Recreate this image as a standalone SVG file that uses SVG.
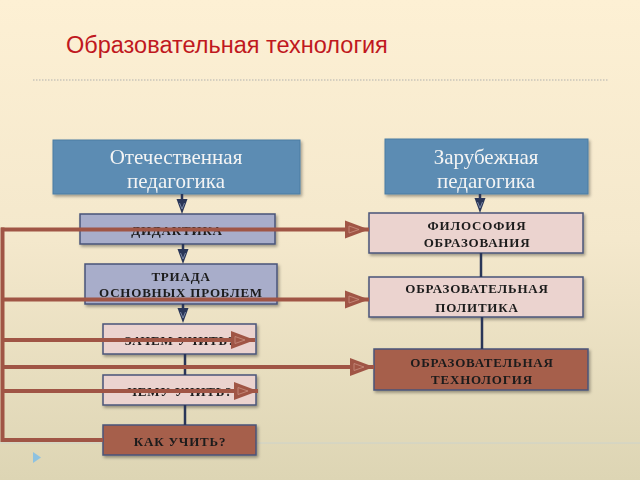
<svg xmlns="http://www.w3.org/2000/svg" width="640" height="480" viewBox="0 0 640 480">
<defs>
<linearGradient id="bg" x1="0" y1="0" x2="0" y2="1">
<stop offset="0" stop-color="#fdf0d4"/>
<stop offset="0.5" stop-color="#f4e8cc"/>
<stop offset="1" stop-color="#ddd5b4"/>
</linearGradient>
<filter id="sh" x="-10%" y="-20%" width="125%" height="150%">
<feDropShadow dx="1.5" dy="2" stdDeviation="1.5" flood-color="#000" flood-opacity="0.35"/>
</filter>
<marker id="ah" markerUnits="userSpaceOnUse" markerWidth="26" markerHeight="20" refX="24" refY="10" orient="auto">
<path d="M0,1 L24,10 L0,19 Z" fill="#a05545"/>
<path d="M4,6.5 L14,10 L4,13.5 Z" fill="none" stroke="#c98f80" stroke-width="0.8"/>
</marker>
</defs>
<style>
.hdr{fill:#5b8cb3;stroke:#4d7ca3;stroke-width:1}
.hdrt{font-family:"Liberation Serif",serif;font-size:21px;fill:#f4f4f4;text-anchor:middle}
.lv{fill:#a8adca;stroke:#4a5479;stroke-width:1.5}
.pk{fill:#ebd3cf;stroke:#4a5479;stroke-width:1.5}
.br{fill:#a65f4c;stroke:#4a5479;stroke-width:1.5}
.bt{font-family:"Liberation Serif",serif;font-size:13px;font-weight:bold;fill:#1b1b1b;text-anchor:middle;letter-spacing:0.8px}
.nv{stroke:#2a3658;stroke-width:2.5;fill:none}
.nvh{fill:#2a3658}
.nvi{fill:none;stroke:#8d9ab8;stroke-width:0.8}
.bl{stroke:#a05545;stroke-width:4;fill:none}
</style>
<rect width="640" height="480" fill="url(#bg)"/>
<text x="66" y="53" font-family="'Liberation Sans',Arial,sans-serif" font-size="23.5" fill="#c0181e">Образовательная технология</text>
<line x1="33" y1="80" x2="608" y2="80" stroke="#c9c5ba" stroke-width="1.5" stroke-dasharray="1.5 1.5"/>
<line x1="0" y1="443" x2="640" y2="443" stroke="#c4d0d4" stroke-width="1" opacity="0.7"/>
<path d="M33,452 L41,457.5 L33,463 Z" fill="#8ec2e0"/>

<g id="n-otech" filter="url(#sh)">
<rect class="hdr" x="53" y="140" width="247" height="54"/>
<text class="hdrt" x="176" y="164">Отечественная</text>
<text class="hdrt" x="176" y="188">педагогика</text>
</g>
<g id="n-zarub" filter="url(#sh)">
<rect class="hdr" x="385" y="139" width="203" height="55"/>
<text class="hdrt" x="486" y="164">Зарубежная</text>
<text class="hdrt" x="486" y="188">педагогика</text>
</g>
<g id="n-didaktika" filter="url(#sh)">
<rect class="lv" x="80" y="214" width="195" height="30"/>
<text class="bt" x="177" y="235">ДИДАКТИКА</text>
</g>
<g id="n-triada" filter="url(#sh)">
<rect class="lv" x="85" y="264" width="192" height="40"/>
<text class="bt" x="181" y="281">ТРИАДА</text>
<text class="bt" x="181" y="297">ОСНОВНЫХ ПРОБЛЕМ</text>
</g>
<g id="n-zachem" filter="url(#sh)">
<rect class="pk" x="103" y="324" width="153" height="30"/>
<text class="bt" x="180" y="345">ЗАЧЕМ УЧИТЬ?</text>
</g>
<g id="n-chemu" filter="url(#sh)">
<rect class="pk" x="103" y="375" width="153" height="30"/>
<text class="bt" x="180" y="396">ЧЕМУ УЧИТЬ?</text>
</g>
<g id="n-kak" filter="url(#sh)">
<rect class="br" x="103" y="425" width="153" height="30"/>
<text class="bt" x="180" y="446">КАК УЧИТЬ?</text>
</g>
<g id="n-filos" filter="url(#sh)">
<rect class="pk" x="369" y="213" width="214" height="40"/>
<text class="bt" x="477" y="230">ФИЛОСОФИЯ</text>
<text class="bt" x="477" y="247">ОБРАЗОВАНИЯ</text>
</g>
<g id="n-polit" filter="url(#sh)">
<rect class="pk" x="369" y="277" width="214" height="40"/>
<text class="bt" x="477" y="293">ОБРАЗОВАТЕЛЬНАЯ</text>
<text class="bt" x="477" y="312">ПОЛИТИКА</text>
</g>
<g id="n-tech" filter="url(#sh)">
<rect class="br" x="374" y="349" width="214" height="41"/>
<text class="bt" x="482" y="367">ОБРАЗОВАТЕЛЬНАЯ</text>
<text class="bt" x="482" y="384">ТЕХНОЛОГИЯ</text>
</g>

<g id="connectors">
<line class="nv" x1="182" y1="194" x2="182" y2="200"/>
<path class="nvh" d="M176.5,199 L187.5,199 L182,214 Z"/>
<path class="nvi" d="M179.5,203 L182,209 L184.5,203"/>
<line class="nv" x1="183" y1="244" x2="183" y2="250"/>
<path class="nvh" d="M177.5,249 L188.5,249 L183,264 Z"/>
<path class="nvi" d="M180.5,253 L183,259 L185.5,253"/>
<line class="nv" x1="183" y1="304" x2="183" y2="309"/>
<path class="nvh" d="M177.5,308 L188.5,308 L183,323 Z"/>
<path class="nvi" d="M180.5,312 L183,318 L185.5,312"/>
<line class="nv" x1="185" y1="354" x2="185" y2="375"/>
<line class="nv" x1="185" y1="405" x2="185" y2="425"/>
<line class="nv" x1="480" y1="194" x2="480" y2="199"/>
<path class="nvh" d="M474.5,198 L485.5,198 L480,213 Z"/>
<path class="nvi" d="M477.5,202 L480,208 L482.5,202"/>
<line class="nv" x1="481" y1="253" x2="481" y2="277"/>
<line class="nv" x1="482" y1="317" x2="482" y2="349"/>
<line class="bl" x1="2.5" y1="227.5" x2="2.5" y2="442"/>
<line class="bl" x1="1" y1="229.5" x2="369" y2="229.5" marker-end="url(#ah)"/>
<line class="bl" x1="1" y1="299.5" x2="369" y2="299.5" marker-end="url(#ah)"/>
<line class="bl" x1="1" y1="340" x2="255" y2="340" marker-end="url(#ah)"/>
<line class="bl" x1="1" y1="367" x2="374" y2="367" marker-end="url(#ah)"/>
<line class="bl" x1="1" y1="391" x2="258" y2="391" marker-end="url(#ah)"/>
<line class="bl" x1="1" y1="440" x2="103" y2="440"/>
</g>
</svg>
